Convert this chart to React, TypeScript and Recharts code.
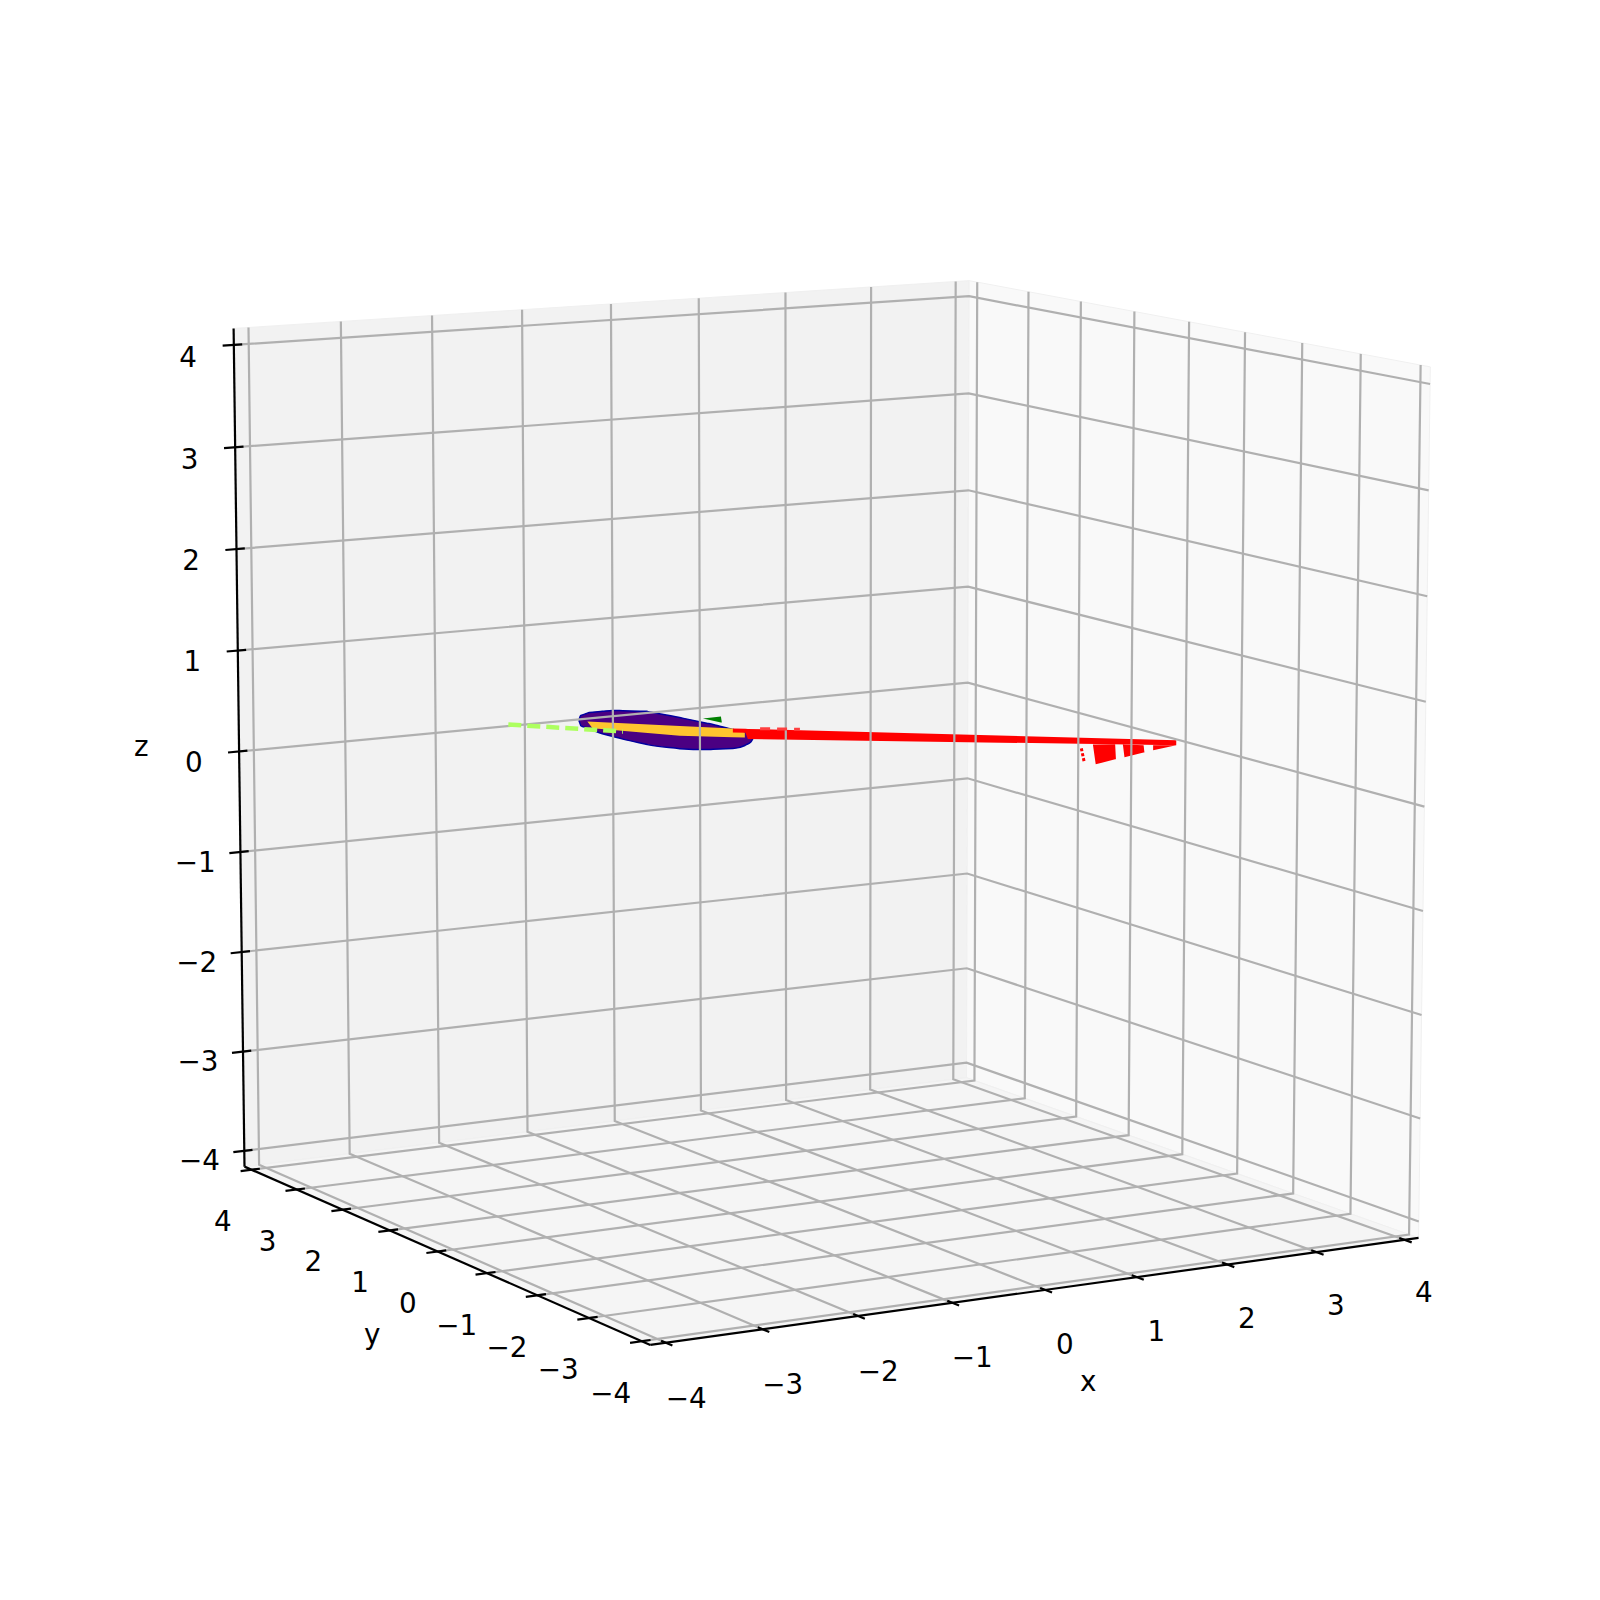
import React from "react";
import { Area, ComposedChart, Line, Scatter, XAxis, YAxis } from "recharts";

// camera of the 3d view
const ELEV = 10;
const AZIM = -120;
const DIST = 10;
const LENS = 7885;
const CENTER_X = 820;
const CENTER_Y = 778.5;
const LIM = 4.16;
const HALF_SIDE = 0.55;

const ticks = [-4, -3, -2, -1, 0, 1, 2, 3, 4];
const tickText = ["\u22124", "\u22123", "\u22122", "\u22121", "0", "1", "2", "3", "4"];

// everything below lies in the plane y = 0
const blobX = [-2.62, -2.6, -2.51, -2.26, -1.887, -1.536, -1.174, -0.958, -0.81, -0.74, -0.765, -0.827, -0.958, -1.244, -1.536, -1.887, -2.149, -2.37, -2.54, -2.6];
const blobZ = [0.785, 0.831, 0.852, 0.851, 0.811, 0.722, 0.625, 0.558, 0.517, 0.45, 0.418, 0.392, 0.374, 0.389, 0.423, 0.492, 0.567, 0.638, 0.71, 0.735];
const yellowX = [-2.53, -0.958, -0.827, -0.827, -1.536, -2.475];
const yellowZ = [0.768, 0.568, 0.518, 0.47, 0.548, 0.7];
const shaftX = [-0.958, 4.05, 4.05, -0.794, -0.82, -0.958];
const shaftZ = [0.568, 0.026, -0.024, 0.453, 0.515, 0.529];
const barbs = [
  { x: [3.083, 3.117, 3.35, 3.34], z: [0.067, -0.134, -0.103, 0.046] },
  { x: [3.429, 3.449, 3.68, 3.67], z: [0.038, -0.093, -0.064, 0.008] },
  { x: [3.781, 3.781, 4.05], z: [-0.002, -0.052, -0.024] },
];
const greenX = [-1.284, -1.088, -1.078];
const greenZ = [0.691, 0.694, 0.635];
const limeX = [-3.37, -2.149];
const limeZ = [0.81, 0.64];
const redDashX = [-0.66, -0.222];
const redDashZ = [0.541, 0.498];
const barbDashX = [2.95, 2.985];
const barbDashZ = [0.039, -0.103];

type Pt = { sx: number; sy: number };

const rad = Math.PI / 180;
const w = [Math.cos(ELEV * rad) * Math.cos(AZIM * rad), Math.cos(ELEV * rad) * Math.sin(AZIM * rad), Math.sin(ELEV * rad)];
const u = [-Math.sin(AZIM * rad), Math.cos(AZIM * rad), 0];
const v = [-Math.sin(ELEV * rad) * Math.cos(AZIM * rad), -Math.sin(ELEV * rad) * Math.sin(AZIM * rad), Math.cos(ELEV * rad)];

function project(x: number, y: number, z: number): Pt {
  const k = HALF_SIDE / LIM;
  const p = [x * k, y * k, z * k];
  const dot = (a: number[]) => a[0] * p[0] + a[1] * p[1] + a[2] * p[2];
  const d = DIST - dot(w);
  return { sx: CENTER_X + (LENS * dot(u)) / d, sy: CENTER_Y - (LENS * dot(v)) / d };
}

const onPlane = (xs: number[], zs: number[]) => xs.map((x, i) => project(x, 0, zs[i]));

// turns a closed outline into the lo/hi rows an Area wants
function band(outline: Pt[]) {
  const xs = [...new Set(outline.map((p) => p.sx))].sort((a, b) => a - b);
  return xs.map((x) => {
    const hits: number[] = [];
    outline.forEach((a, i) => {
      const b = outline[(i + 1) % outline.length];
      const lo = Math.min(a.sx, b.sx);
      const hi = Math.max(a.sx, b.sx);
      if (x < lo || x > hi) return;
      if (a.sx === b.sx) hits.push(a.sy, b.sy);
      else hits.push(a.sy + ((b.sy - a.sy) * (x - a.sx)) / (b.sx - a.sx));
    });
    return { sx: x, range: [Math.min(...hits), Math.max(...hits)] };
  });
}

const panes = [
  { fill: "#f2f2f2", data: band([project(-LIM, LIM, -LIM), project(LIM, LIM, -LIM), project(LIM, LIM, LIM), project(-LIM, LIM, LIM)]) },
  { fill: "#f9f9f9", data: band([project(LIM, -LIM, -LIM), project(LIM, LIM, -LIM), project(LIM, LIM, LIM), project(LIM, -LIM, LIM)]) },
  { fill: "#f5f5f5", data: band([project(-LIM, -LIM, -LIM), project(LIM, -LIM, -LIM), project(LIM, LIM, -LIM), project(-LIM, LIM, -LIM)]) },
];

const gridLines = ticks.flatMap((t) => [
  [project(t, -LIM, -LIM), project(t, LIM, -LIM), project(t, LIM, LIM)],
  [project(-LIM, t, -LIM), project(LIM, t, -LIM), project(LIM, t, LIM)],
  [project(-LIM, LIM, t), project(LIM, LIM, t), project(LIM, -LIM, t)],
]);

const axisLines = [
  [project(-LIM, -LIM, -LIM), project(LIM, -LIM, -LIM)],
  [project(-LIM, -LIM, -LIM), project(-LIM, LIM, -LIM)],
  [project(-LIM, LIM, -LIM), project(-LIM, LIM, LIM)],
];

const TICK_OUT = 0.12;
const TICK_IN = 0.09;
const tickLines = ticks.flatMap((t) => [
  [project(t, -LIM - TICK_OUT, -LIM), project(t, -LIM + TICK_IN, -LIM)],
  [project(-LIM - TICK_OUT, t, -LIM), project(-LIM + TICK_IN, t, -LIM)],
  [project(-LIM - TICK_OUT, LIM, t), project(-LIM + TICK_IN, LIM, t)],
]);

const tickLabels = ticks.flatMap((t, i) => [
  { ...project(t * 0.997, -LIM - 0.35, -LIM - 0.44), text: tickText[i] },
  { ...project(-LIM - 0.32, t, -LIM - 0.465 - 0.00625 * t), text: tickText[i] },
  { ...project(-LIM - 0.49, LIM, t * 0.99375 - 0.065), text: tickText[i] },
]);

const axisLabels = [
  { ...project(0.3, -LIM - 0.28, -LIM - 0.85), text: "x" },
  { ...project(-LIM - 0.85, -0.3, -LIM - 0.63), text: "y" },
  { ...project(-LIM - 1.05, LIM, 0.14), text: "z" },
];

const renderText = (props: any) => (
  <text x={props.cx} y={props.cy} textAnchor="middle" dominantBaseline="central" fontFamily="DejaVu Sans" fontSize={27.8} fill="#000">
    {props.payload.text}
  </text>
);

const noShape = { dot: false, isAnimationActive: false, legendType: "none" as const };

export default function App() {
  return (
    <div style={{ position: "absolute", left: 0, top: 0, background: "#fff" }}>
      <ComposedChart width={1600} height={1600} margin={{ top: 0, right: 0, bottom: 0, left: 0 }}>
        <XAxis hide type="number" dataKey="sx" domain={[0, 1600]} allowDataOverflow />
        <YAxis hide type="number" dataKey="sy" domain={[0, 1600]} reversed allowDataOverflow />
        {panes.map((p, i) => (
          <Area key={`pane-${i}`} data={p.data} dataKey="range" type="linear" fill={p.fill} fillOpacity={1} stroke={"#f0f0f0"} strokeWidth={1} isAnimationActive={false} dot={false} />
        ))}
        {gridLines.map((d, i) => (
          <Line key={`grid-${i}`} data={d} dataKey="sy" type="linear" stroke="#b0b0b0" strokeWidth={2.2} {...noShape} />
        ))}
        {axisLines.map((d, i) => (
          <Line key={`axis-${i}`} data={d} dataKey="sy" type="linear" stroke="#000" strokeWidth={2.2} {...noShape} />
        ))}
        {tickLines.map((d, i) => (
          <Line key={`tick-${i}`} data={d} dataKey="sy" type="linear" stroke="#000" strokeWidth={2.2} {...noShape} />
        ))}
        <Area data={band(onPlane(greenX, greenZ))} dataKey="range" type="linear" fill="#008000" fillOpacity={1} stroke="none" isAnimationActive={false} dot={false} />
        <Area data={band(onPlane(blobX, blobZ))} dataKey="range" type="monotone" fill="#4b0082" fillOpacity={1} stroke="#0000a0" strokeWidth={1.5} isAnimationActive={false} dot={false} />
        <Line data={onPlane(limeX, limeZ)} dataKey="sy" type="linear" stroke="#adff5f" strokeWidth={4.5} strokeDasharray="13 6" {...noShape} />
        <Area data={band(onPlane(yellowX, yellowZ))} dataKey="range" type="linear" fill="#ffc52f" fillOpacity={1} stroke="none" isAnimationActive={false} dot={false} />
        <Line data={onPlane(redDashX, redDashZ)} dataKey="sy" type="linear" stroke="#ff4040" strokeWidth={3} strokeDasharray="10 7" {...noShape} />
        <Area data={band(onPlane(shaftX, shaftZ))} dataKey="range" type="linear" fill="#ff0000" fillOpacity={1} stroke="none" isAnimationActive={false} dot={false} />
        {barbs.map((b, i) => (
          <Area key={`barb-${i}`} data={band(onPlane(b.x, b.z))} dataKey="range" type="linear" fill="#ff0000" fillOpacity={1} stroke="none" isAnimationActive={false} dot={false} />
        ))}
        <Line data={onPlane(barbDashX, barbDashZ)} dataKey="sy" type="linear" stroke="#ff0000" strokeWidth={3} strokeDasharray="3 2" {...noShape} />
        <Scatter data={tickLabels} dataKey="sy" shape={renderText} isAnimationActive={false} />
        <Scatter data={axisLabels} dataKey="sy" shape={renderText} isAnimationActive={false} />
      </ComposedChart>
    </div>
  );
}
